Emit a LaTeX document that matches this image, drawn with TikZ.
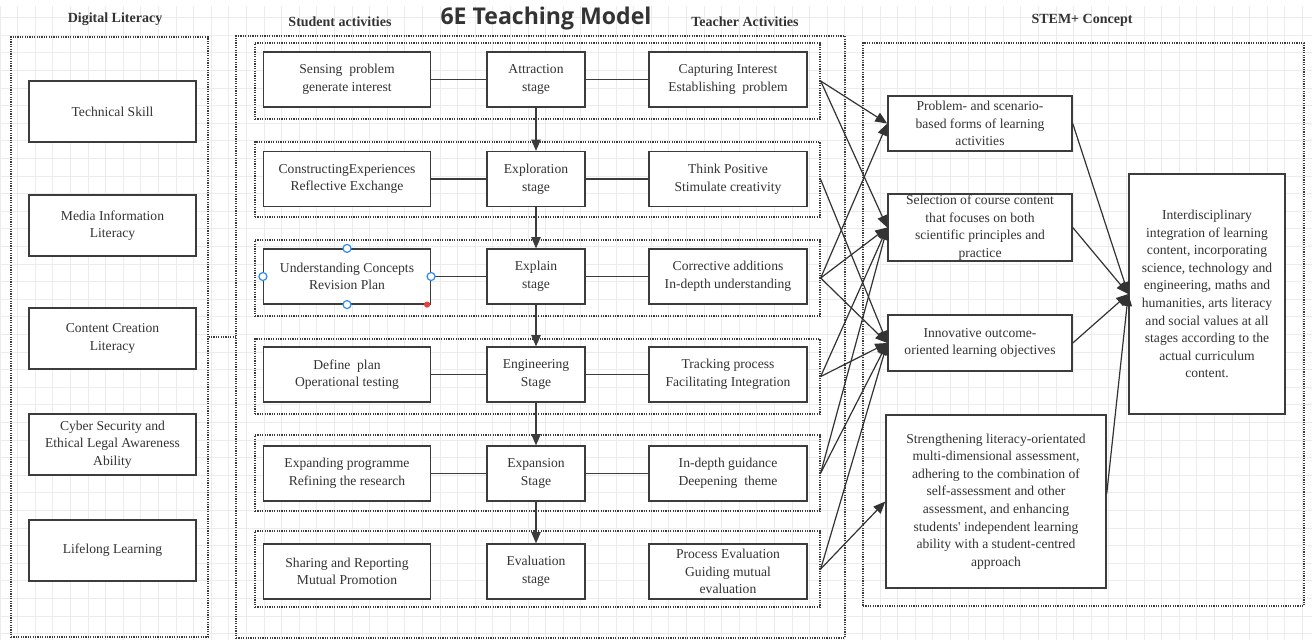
\documentclass[tikz,border=0pt]{standalone}
\usepackage{fontspec}
\setmainfont{Liberation Serif}
\newfontfamily\titlefont{Open Sans}
\usetikzlibrary{arrows.meta,fit,positioning}
\definecolor{Ink}{HTML}{333333}
\definecolor{Frame}{HTML}{3C3C3C}
\definecolor{GridGray}{HTML}{ECECEC}
\definecolor{Handle}{HTML}{2E8BEF}
\definecolor{HandleRed}{HTML}{E8403A}
\newcommand{\straightquote}{\XeTeXglyph\numexpr\XeTeXcharglyph"27\relax}

\begin{document}
\begin{tikzpicture}[x=0.75pt,y=-0.75pt,
  box/.style={draw=Frame,line width=1.1pt,fill=white,align=center,text=Ink,
    font=\fontsize{10.2}{13.2}\selectfont,inner sep=1pt},
  dlitem/.style={box,minimum width=125pt,minimum height=46pt},
  sact/.style={box,minimum width=125pt,minimum height=41pt},
  stagebox/.style={box,minimum width=73.5pt,minimum height=41pt},
  tact/.style={box,minimum width=118.5pt,minimum height=41pt},
  holder/.style={draw=Frame,line width=1pt,dash pattern=on 0.9pt off 0.9pt,inner sep=0pt},
  head/.style={font=\bfseries\fontsize{10.5}{12}\selectfont,text=Ink},
  link/.style={draw=Frame,line width=1pt},
  flow/.style={draw=Frame,line width=1pt,-{Triangle[length=8.5pt,width=7pt]}},
  conn/.style={draw=Ink,line width=0.9pt,-{Triangle[length=9pt,width=7.5pt]}},
  handle/.style={draw=Handle,line width=0.9pt,fill=white}
]
\useasboundingbox (0,0) rectangle (1312,640);
\fill[white] (0,0) rectangle (1312,640);
\draw[GridGray,line width=0.5pt,step=13.2pt] (0,6) grid (1312,640);

% headings
\node[head] at (115,19) {Digital Literacy};
\node[head] at (340,22) {Student activities};
\node[font=\titlefont\bfseries\fontsize{17.3}{20}\selectfont,text=Ink] at (546,19) {6E Teaching Model};
\node[head] at (745,22) {Teacher Activities};
\node[head] at (1082,20) {STEM+ Concept};

% outer containers
\node[holder,fit={(11,37) (208,637)}] (dlbox) {};
\node[holder,fit={(236,36) (845,638)}] (sixebox) {};
\node[holder,fit={(863,43) (1304,606)}] (stembox) {};
\coordinate (gap) at (222,337);
\draw[holder] (dlbox.east |- gap) -- (sixebox.west |- gap);

% digital literacy
\node[dlitem] (tech) at (112.5,111.5) {Technical Skill};
\node[dlitem] (media) at (112.5,225.5) {Media Information\\Literacy};
\node[dlitem] (content) at (112.5,338.5) {Content Creation\\Literacy};
\node[dlitem] (cyber) at (112.5,444.5) {Cyber Security and\\Ethical Legal Awareness\\Ability};
\node[dlitem] (lifelong) at (112.5,550.5) {Lifelong Learning};

% stage rows
\node[holder,fit={(255,43) (820,119)}] (row1) {};
\node[holder,fit={(255,142) (820,217)}] (row2) {};
\node[holder,fit={(255,240) (820,316)}] (row3) {};
\node[holder,fit={(255,339) (820,414)}] (row4) {};
\node[holder,fit={(255,435) (820,511)}] (row5) {};
\node[holder,fit={(255,531) (820,607)}] (row6) {};

\node[sact] (stu1) at (347,79.5) {Sensing\ \ problem\\generate interest};
\node[stagebox] (stg1) at (536,79.5) {Attraction\\stage};
\node[tact] (tea1) at (728,79.5) {Capturing Interest\\Establishing\ \ problem};

\node[sact] (stu2) at (347,179) {ConstructingExperiences\\Reflective Exchange};
\node[stagebox] (stg2) at (536,179) {Exploration\\stage};
\node[tact] (tea2) at (728,179) {Think Positive\\Stimulate creativity};

\node[sact] (stu3) at (347,276.5) {Understanding Concepts\\Revision Plan};
\node[stagebox] (stg3) at (536,276.5) {Explain\\stage};
\node[tact] (tea3) at (728,276.5) {Corrective additions\\In-depth understanding};

\node[sact] (stu4) at (347,374.5) {Define\ \ plan\\Operational testing};
\node[stagebox] (stg4) at (536,374.5) {Engineering\\Stage};
\node[tact] (tea4) at (728,374.5) {Tracking process\\Facilitating Integration};

\node[sact] (stu5) at (347,473.5) {Expanding programme\\Refining the research};
\node[stagebox] (stg5) at (536,473.5) {Expansion\\Stage};
\node[tact] (tea5) at (728,473.5) {In-depth guidance\\Deepening\ \ theme};

\node[sact] (stu6) at (347,571.5) {Sharing and Reporting\\Mutual Promotion};
\node[stagebox] (stg6) at (536,571.5) {Evaluation\\stage};
\node[tact] (tea6) at (728,571.5) {Process Evaluation\\Guiding mutual\\evaluation};

\foreach \r in {1,...,5} {
  \draw[link] (stu\r) -- (stg\r);
  \draw[link] (stg\r) -- (tea\r);
}
\draw[flow] (stg1) -- (stg2);
\draw[flow] (stg2) -- (stg3);
\draw[flow] (stg3) -- (stg4);
\draw[flow] (stg4) -- (stg5);
\draw[flow] (stg5) -- (stg6);

% selection handles
\foreach \p in {north,south,west,east}
  \draw[handle] (stu3.\p) circle (3pt);
\fill[HandleRed] ([xshift=-3pt]stu3.south east) circle (2.3pt);

% STEM+ concept
\node[box,minimum width=138pt,minimum height=41pt] (stemA) at (980,123.5)
  {Problem- and scenario-\\based forms of learning\\activities};
\node[box,minimum width=138pt,minimum height=50pt,inner ysep=0pt] (stemB) at (980,227.5)
  {Selection of course content\\that focuses on both\\scientific principles and\\practice};
\node[box,minimum width=138pt,minimum height=42pt] (stemC) at (980,343)
  {Innovative outcome-\\oriented learning objectives};
\node[box,minimum width=165pt,minimum height=130pt] (stemD) at (996,501.5)
  {Strengthening literacy-orientated\\multi-dimensional assessment,\\adhering to the combination of\\self-assessment and other\\assessment, and enhancing\\students\straightquote{} independent learning\\ability with a student-centred\\approach};
\node[box,minimum width=117pt,minimum height=180pt] (stemE) at (1207,294)
  {Interdisciplinary\\integration of learning\\content, incorporating\\science, technology and\\engineering, maths and\\humanities, arts literacy\\and social values at all\\stages according to the\\actual curriculum\\content.};

% stages to concept
\draw[conn] (row1.east) -- (stemA.west);
\draw[conn] (row1.east) -- (stemB.west);
\draw[conn] (row2.east) -- (stemC.west);
\draw[conn] (row3.east) -- (stemA.west);
\draw[conn] (row3.east) -- (stemB.west);
\draw[conn] (row3.east) -- (stemC.west);
\draw[conn] (row4.east) -- (stemB.west);
\draw[conn] (row4.east) -- (stemC.west);
\draw[conn] (row5.east) -- (stemB.west);
\draw[conn] (row5.east) -- (stemC.west);
\draw[conn] (row6.east) -- (stemC.west);
\draw[conn] (row6.east) -- (stemD.west);

\draw[conn] (stemA.east) -- (stemE.west);
\draw[conn] (stemB.east) -- (stemE.west);
\draw[conn] (stemC.east) -- (stemE.west);
\draw[conn] ([yshift=6pt]stemD.east) -- (stemE.west);
\end{tikzpicture}
\end{document}
